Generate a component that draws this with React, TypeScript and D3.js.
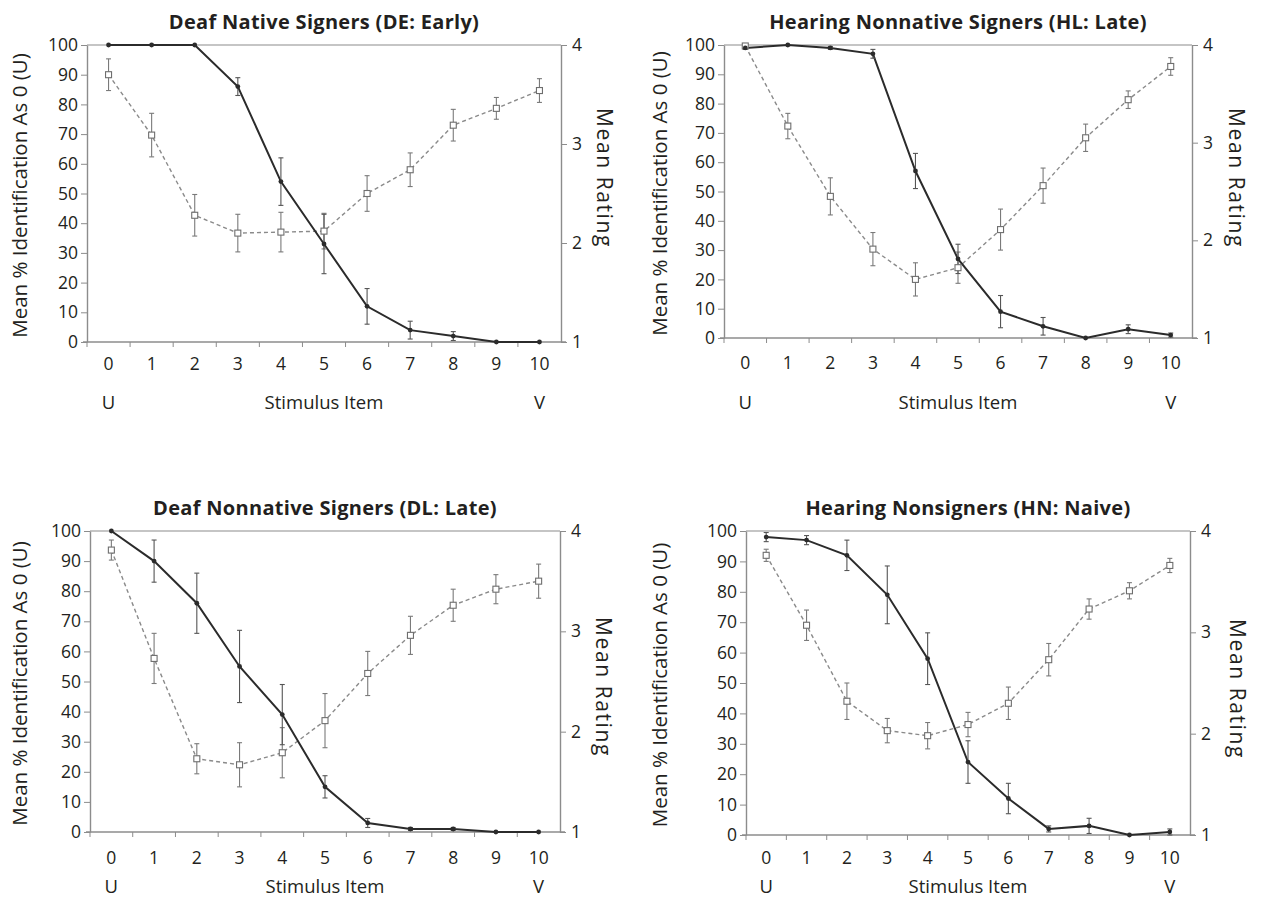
import * as d3 from 'd3';
import { useEffect, useRef } from 'react';

const WIDTH = 1261;
const HEIGHT = 899;

const STIMULUS_ITEMS = [0, 1, 2, 3, 4, 5, 6, 7, 8, 9, 10];
const IDENT_TICKS = [0, 10, 20, 30, 40, 50, 60, 70, 80, 90, 100];
const RATING_TICKS = [1, 2, 3, 4];

const PANEL_TITLES = [
  'Deaf Native Signers (DE: Early)',
  'Hearing Nonnative Signers (HL: Late)',
  'Deaf Nonnative Signers (DL: Late)',
  'Hearing Nonsigners (HN: Naive)',
];

// % identification as 0 (U), solid line
const DE_IDENT = [100, 100, 100, 86, 54, 33, 12, 4, 2, 0, 0];
const DE_IDENT_ERR = [0, 0, 0, 3, 8, 10, 6, 3, 1.5, 0, 0];
const HL_IDENT = [99, 100, 99, 97, 57, 27, 9, 4, 0, 3, 1];
const HL_IDENT_ERR = [0.5, 0, 0.5, 1.5, 6, 5, 5.5, 3, 0, 1.5, 0.7];
const DL_IDENT = [100, 90, 76, 55, 39, 15, 3, 1, 1, 0, 0];
const DL_IDENT_ERR = [0, 7, 10, 12, 10, 3.7, 1.5, 0.5, 0.5, 0, 0];
const HN_IDENT = [98, 97, 92, 79, 58, 24, 12, 2, 3, 0, 1];
const HN_IDENT_ERR = [1.5, 1.5, 5, 9.5, 8.5, 7, 5, 1, 2.5, 0, 1];

// mean rating, dashed line
const DE_RATING = [3.7, 3.09, 2.28, 2.1, 2.11, 2.12, 2.5, 2.74, 3.19, 3.36, 3.54];
const DE_RATING_ERR = [0.16, 0.22, 0.21, 0.19, 0.2, 0.18, 0.18, 0.17, 0.16, 0.11, 0.12];
const HL_RATING = [3.99, 3.17, 2.45, 1.91, 1.6, 1.72, 2.11, 2.56, 3.05, 3.44, 3.78];
const HL_RATING_ERR = [0.02, 0.13, 0.19, 0.17, 0.17, 0.16, 0.21, 0.18, 0.14, 0.09, 0.09];
const DL_RATING = [3.81, 2.73, 1.73, 1.67, 1.79, 2.11, 2.58, 2.96, 3.26, 3.42, 3.5];
const DL_RATING_ERR = [0.1, 0.25, 0.15, 0.22, 0.25, 0.27, 0.22, 0.19, 0.16, 0.145, 0.17];
const HN_RATING = [3.76, 3.07, 2.32, 2.03, 1.98, 2.09, 2.3, 2.73, 3.23, 3.41, 3.66];
const HN_RATING_ERR = [0.06, 0.15, 0.18, 0.12, 0.13, 0.12, 0.16, 0.16, 0.1, 0.08, 0.07];

const FONT = "'Open Sans', 'Noto Sans', sans-serif";
const TEXT_COLOR = '#231f20';
const AXIS_COLOR = '#8c8c8c';
const SOLID_COLOR = '#2b2b2b';
const DASH_COLOR = '#8a8a8a';
const TICK_FONT = '17.5px';

const panels = [
  {
    title: PANEL_TITLES[0], ident: DE_IDENT, identErr: DE_IDENT_ERR, rating: DE_RATING, ratingErr: DE_RATING_ERR,
    left: 87, right: 561, top: 45, bottom: 342, titleY: 29, tickY: 28, subY: 67,
    leftLabelX: 20, rightLabelX: 604, rightLabelY: 178,
  },
  {
    title: PANEL_TITLES[1], ident: HL_IDENT, identErr: HL_IDENT_ERR, rating: HL_RATING, ratingErr: HL_RATING_ERR,
    left: 724, right: 1192, top: 45, bottom: 338, titleY: 29, tickY: 31, subY: 71,
    leftLabelX: 660, rightLabelX: 1236, rightLabelY: 178,
  },
  {
    title: PANEL_TITLES[2], ident: DL_IDENT, identErr: DL_IDENT_ERR, rating: DL_RATING, ratingErr: DL_RATING_ERR,
    left: 90, right: 560, top: 531, bottom: 832, titleY: 515, tickY: 32, subY: 61,
    leftLabelX: 20, rightLabelX: 603, rightLabelY: 687,
  },
  {
    title: PANEL_TITLES[3], ident: HN_IDENT, identErr: HN_IDENT_ERR, rating: HN_RATING, ratingErr: HN_RATING_ERR,
    left: 746, right: 1190, top: 531, bottom: 835, titleY: 515, tickY: 29, subY: 58,
    leftLabelX: 660, rightLabelX: 1237, rightLabelY: 689,
  },
];

function drawPanel(svg, p) {
  const g = svg.append('g');
  const x = d3.scaleBand().domain(STIMULUS_ITEMS.map(String)).range([p.left, p.right]).padding(0);
  const cx = (i) => x(String(STIMULUS_ITEMS[i])) + x.bandwidth() / 2;
  const yL = d3.scaleLinear().domain([0, 100]).range([p.bottom, p.top]);
  const yR = d3.scaleLinear().domain([1, 4]).range([p.bottom, p.top]);

  // frame top
  g.append('line')
    .attr('x1', p.left).attr('x2', p.right)
    .attr('y1', p.top).attr('y2', p.top)
    .attr('stroke', AXIS_COLOR).attr('stroke-width', 1.2);

  const styleAxis = (axis) => {
    axis.select('.domain').attr('stroke', AXIS_COLOR).attr('stroke-width', 1.4);
    axis.selectAll('.tick line').attr('stroke', AXIS_COLOR).attr('stroke-width', 1);
    axis.selectAll('text')
      .style('font-family', FONT)
      .style('font-size', TICK_FONT)
      .attr('fill', TEXT_COLOR);
  };

  g.append('g')
    .attr('transform', `translate(${p.left},0)`)
    .call(d3.axisLeft(yL).tickValues(IDENT_TICKS).tickSize(6).tickSizeOuter(0).tickPadding(3))
    .call(styleAxis);

  g.append('g')
    .attr('transform', `translate(${p.right},0)`)
    .call(d3.axisRight(yR).tickValues(RATING_TICKS).tickFormat(d3.format('d')).tickSize(6).tickSizeOuter(0).tickPadding(5))
    .call(styleAxis);

  // x axis: line, boundary ticks, centered labels
  g.append('line')
    .attr('x1', p.left - 4).attr('x2', p.right + 5)
    .attr('y1', p.bottom).attr('y2', p.bottom)
    .attr('stroke', AXIS_COLOR).attr('stroke-width', 1.4);

  g.selectAll('line.xtick')
    .data(STIMULUS_ITEMS)
    .enter()
    .append('line')
    .attr('class', 'xtick')
    .attr('x1', (d) => x(String(d)))
    .attr('x2', (d) => x(String(d)))
    .attr('y1', p.bottom)
    .attr('y2', p.bottom + 5)
    .attr('stroke', AXIS_COLOR);

  g.selectAll('text.xlabel')
    .data(STIMULUS_ITEMS)
    .enter()
    .append('text')
    .attr('class', 'xlabel')
    .attr('x', (d, i) => cx(i))
    .attr('y', p.bottom + p.tickY)
    .attr('text-anchor', 'middle')
    .style('font-family', FONT)
    .style('font-size', TICK_FONT)
    .attr('fill', TEXT_COLOR)
    .text((d) => d);

  const sub = [
    { text: 'U', x: cx(0) },
    { text: 'Stimulus Item', x: (p.left + p.right) / 2 },
    { text: 'V', x: cx(STIMULUS_ITEMS.length - 1) },
  ];
  g.selectAll('text.sub')
    .data(sub)
    .enter()
    .append('text')
    .attr('class', 'sub')
    .attr('x', (d) => d.x)
    .attr('y', p.bottom + p.subY)
    .attr('text-anchor', 'middle')
    .style('font-family', FONT)
    .style('font-size', '18.5px')
    .attr('fill', TEXT_COLOR)
    .text((d) => d.text);

  g.append('text')
    .attr('x', (p.left + p.right) / 2)
    .attr('y', p.titleY)
    .attr('text-anchor', 'middle')
    .style('font-family', FONT)
    .style('font-size', '20px')
    .style('font-weight', 700)
    .style('letter-spacing', '0.3px')
    .attr('fill', TEXT_COLOR)
    .text(p.title);

  const midY = (p.top + p.bottom) / 2;
  g.append('text')
    .attr('transform', `translate(${p.leftLabelX},${midY + 2}) rotate(-90)`)
    .attr('text-anchor', 'middle')
    .attr('dy', '0.35em')
    .style('font-family', FONT)
    .style('font-size', '20.5px')
    .attr('fill', TEXT_COLOR)
    .text('Mean % Identification As 0 (U)');

  g.append('text')
    .attr('transform', `translate(${p.rightLabelX},${p.rightLabelY}) rotate(90)`)
    .attr('text-anchor', 'middle')
    .attr('dy', '0.35em')
    .style('font-family', FONT)
    .style('font-size', '21px')
    .style('letter-spacing', '1.6px')
    .attr('fill', TEXT_COLOR)
    .text('Mean Rating');

  const ratingLine = d3.line().x((d, i) => cx(i)).y((d) => yR(d));
  const identLine = d3.line().x((d, i) => cx(i)).y((d) => yL(d));

  g.append('path')
    .datum(p.rating)
    .attr('d', ratingLine)
    .attr('fill', 'none')
    .attr('stroke', DASH_COLOR)
    .attr('stroke-width', 1.4)
    .attr('stroke-dasharray', '4,3');

  g.append('path')
    .datum(p.ident)
    .attr('d', identLine)
    .attr('fill', 'none')
    .attr('stroke', SOLID_COLOR)
    .attr('stroke-width', 2);

  const errorBars = (values, errs, scale, color, cls) => {
    const items = values.map((v, i) => ({ i, lo: v - errs[i], hi: v + errs[i] })).filter((d) => errs[d.i] > 0);
    const eg = g.append('g').attr('stroke', color).attr('stroke-width', 1.1);
    eg.selectAll(`line.${cls}-v`)
      .data(items).enter().append('line')
      .attr('x1', (d) => cx(d.i)).attr('x2', (d) => cx(d.i))
      .attr('y1', (d) => scale(d.lo)).attr('y2', (d) => scale(d.hi));
    ['lo', 'hi'].forEach((k) => {
      eg.selectAll(`line.${cls}-${k}`)
        .data(items).enter().append('line')
        .attr('x1', (d) => cx(d.i) - 2.5).attr('x2', (d) => cx(d.i) + 2.5)
        .attr('y1', (d) => scale(d[k])).attr('y2', (d) => scale(d[k]));
    });
  };

  errorBars(p.rating, p.ratingErr, yR, '#7a7a7a', 'rerr');
  errorBars(p.ident, p.identErr, yL, '#555555', 'ierr');

  g.selectAll('rect.rating')
    .data(p.rating)
    .enter()
    .append('rect')
    .attr('class', 'rating')
    .attr('x', (d, i) => cx(i) - 3)
    .attr('y', (d) => yR(d) - 3)
    .attr('width', 6)
    .attr('height', 6)
    .attr('fill', '#fff')
    .attr('stroke', '#6e6e6e')
    .attr('stroke-width', 1.1);

  g.selectAll('circle.ident')
    .data(p.ident)
    .enter()
    .append('circle')
    .attr('class', 'ident')
    .attr('cx', (d, i) => cx(i))
    .attr('cy', (d) => yL(d))
    .attr('r', 2.4)
    .attr('fill', SOLID_COLOR);
}

export default function App() {
  const ref = useRef(null);

  useEffect(() => {
    const svg = d3.select(ref.current);
    svg.selectAll('*').remove();
    svg.append('rect').attr('width', WIDTH).attr('height', HEIGHT).attr('fill', '#fff');
    panels.forEach((p) => drawPanel(svg, p));
    return () => {
      svg.selectAll('*').remove();
    };
  }, []);

  return (
    <svg
      ref={ref}
      width={WIDTH}
      height={HEIGHT}
      style={{ position: 'absolute', left: 0, top: 0 }}
      role="img"
      aria-label="Identification and rating functions for four listener groups"
    />
  );
}
